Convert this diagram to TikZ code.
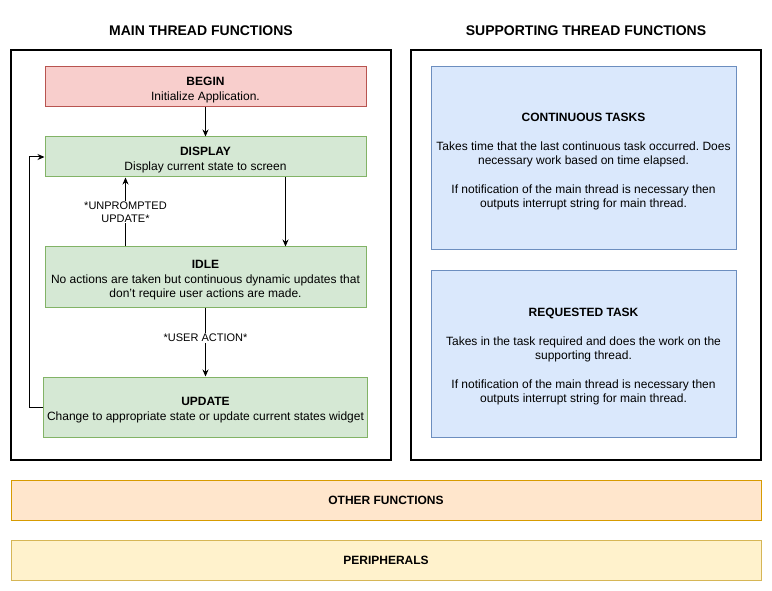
\documentclass[tikz,border=0pt]{standalone}
\usepackage{fontspec}
\setmainfont{Liberation Sans}
\usetikzlibrary{arrows.meta}
\definecolor{fondRouge}{HTML}{F8CECC}
\definecolor{bordRouge}{HTML}{B85450}
\definecolor{fondVert}{HTML}{D5E8D4}
\definecolor{bordVert}{HTML}{82B366}
\definecolor{fondBleu}{HTML}{DAE8FC}
\definecolor{bordBleu}{HTML}{6C8EBF}
\definecolor{fondOrange}{HTML}{FFE6CC}
\definecolor{bordOrange}{HTML}{D79B00}
\definecolor{fondJaune}{HTML}{FFF2CC}
\definecolor{bordJaune}{HTML}{D6B656}
\frenchspacing
\begin{document}
\begin{tikzpicture}[x=1pt,y=-1pt]
			% Styles (MODIFIABLES)
			\tikzstyle{fleche}=[-{Stealth[length=7pt,width=6pt]},line width=1pt]
			\tikzstyle{cadre}=[draw=black,line width=2pt,inner sep=0pt]
			\tikzstyle{titre}=[font=\fontsize{14}{16}\selectfont\bfseries]
			\tikzstyle{etat}=[draw=bordVert,fill=fondVert,line width=1pt,minimum width=321pt,align=center,font=\fontsize{12}{14.4}\selectfont]
			\tikzstyle{tache}=[etat,draw=bordBleu,fill=fondBleu,minimum width=305pt]
			\tikzstyle{bande}=[line width=1pt,minimum width=750pt,minimum height=40pt,font=\fontsize{12}{14}\selectfont\bfseries]
			\tikzstyle{etiquette}=[fill=white,inner sep=1pt,align=center,font=\fontsize{11}{13.2}\selectfont]
			% Dimensions (MODIFIABLES)
			\def\DecalageFleche{80pt}
			\def\HautPremiere{14.6pt}
			\def\Entete#1{\rule{0pt}{\HautPremiere}\textbf{#1}}
			% Cadres
			\useasboundingbox (0,0) rectangle (772,591);
			\node[titre] (titrePrincipal) at (201,31) {MAIN THREAD FUNCTIONS};
			\node[titre] (titreSupport) at (586,31) {SUPPORTING THREAD FUNCTIONS};
			\node[cadre,minimum width=380pt,minimum height=410pt] (principal) at (201,255) {};
			\node[cadre,minimum width=350pt,minimum height=410pt] (support) at (586,255) {};
			% Noeuds
			\node[etat,draw=bordRouge,fill=fondRouge,minimum height=40pt] (begin) at (205.5,87) {\Entete{BEGIN}\\Initialize Application.};
			\node[etat,minimum height=40pt] (display) at (205.5,157) {\Entete{DISPLAY}\\Display current state to screen};
			\node[etat,minimum height=60pt] (idle) at (205.5,277) {\Entete{IDLE}\\No actions are taken but continuous dynamic updates that\\don't require user actions are made.};
			\node[etat,minimum height=60pt] (update) at (205.5,407) {\Entete{UPDATE}\\Change to appropriate state or update current states widget};
			%
			\node[tache,minimum height=183pt] (continues) at (583.5,158.5) {\Entete{CONTINUOUS TASKS}\\[14.4pt]Takes time that the last continuous task occurred. Does\\necessary work based on time elapsed.\\[14.4pt]If notification of the main thread is necessary then\\outputs interrupt string for main thread.};
			\node[tache,minimum height=167pt] (demandee) at (583.5,353.5) {\Entete{REQUESTED TASK}\\[14.4pt]Takes in the task required and does the work on the\\supporting thread.\\[14.4pt]If notification of the main thread is necessary then\\outputs interrupt string for main thread.};
			%
			\node[bande,draw=bordOrange,fill=fondOrange] (autres) at (386,500) {OTHER FUNCTIONS};
			\node[bande,draw=bordJaune,fill=fondJaune] (peripheriques) at (386,560) {PERIPHERALS};
			% Arcs
			\draw[fleche] (begin.south)--(display.north);
			\draw[fleche] ([xshift=\DecalageFleche]display.south)--([xshift=\DecalageFleche]idle.north);
			\draw[fleche] ([xshift=-\DecalageFleche]idle.north)--([xshift=-\DecalageFleche]display.south) node[midway,etiquette]{*UNPROMPTED\\UPDATE*};
			\draw[fleche] (idle.south)--(update.north) node[pos=0.44,etiquette]{*USER ACTION*};
			\draw[fleche] (update.west)--++(-14,0)|-(display.west);
\end{tikzpicture}
\end{document}
